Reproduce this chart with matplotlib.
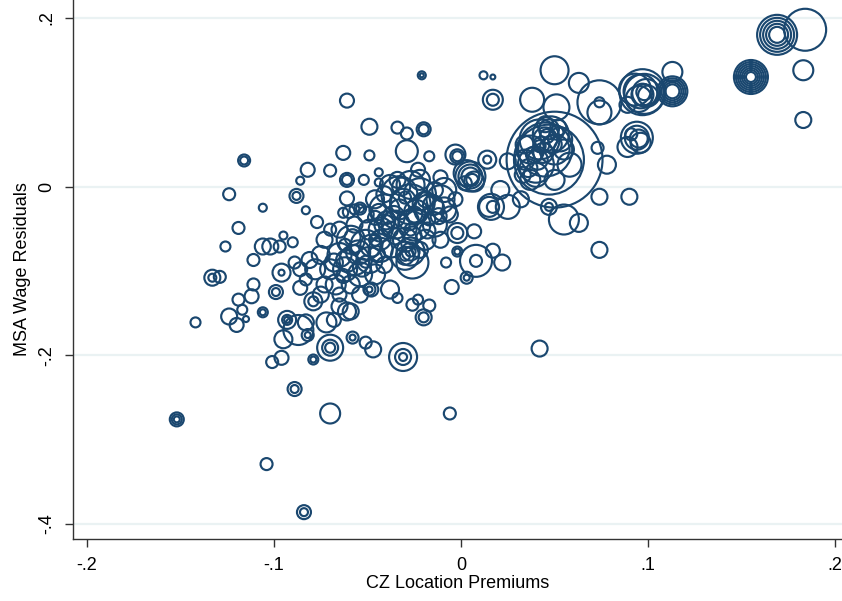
import matplotlib
matplotlib.use("Agg")
import matplotlib.pyplot as plt
import numpy as np

plt.rcParams['font.family'] = ['Liberation Sans', 'DejaVu Sans']

# CZ location premium, MSA wage residual, population weight
# lower left / outliers
prem_a = [-0.152, -0.152, -0.152, -0.142, -0.116, -0.116, -0.124, -0.119, -0.126, -0.133, -0.133, -0.129,
          -0.111, -0.106, -0.102, -0.097, -0.090, -0.096, -0.096, -0.089, -0.111, -0.112, -0.119, -0.124,
          -0.120, -0.117, -0.115, -0.106, -0.106, -0.099, -0.099, -0.093, -0.093, -0.093, -0.095, -0.101,
          -0.096, -0.079, -0.079, -0.083, -0.082, -0.082, -0.087, -0.070, -0.070, -0.070, -0.072, -0.068,
          -0.061, -0.058, -0.058, -0.051, -0.047, -0.079, -0.079, -0.075, -0.086, -0.065, -0.059, -0.049,
          -0.049, -0.089, -0.089, -0.070, -0.006, -0.104, -0.084, -0.084, -0.031, -0.031, -0.031, 0.042]
resid_a = [-0.276, -0.276, -0.276, -0.161, 0.031, 0.031, -0.009, -0.049, -0.071, -0.108, -0.108, -0.107,
           -0.087, -0.071, -0.071, -0.071, -0.066, -0.102, -0.102, -0.090, -0.116, -0.130, -0.134, -0.154,
           -0.164, -0.146, -0.157, -0.149, -0.149, -0.125, -0.125, -0.158, -0.158, -0.158, -0.181, -0.208,
           -0.203, -0.205, -0.205, -0.161, -0.176, -0.176, -0.170, -0.191, -0.191, -0.191, -0.161, -0.158,
           -0.148, -0.179, -0.179, -0.185, -0.193, -0.136, -0.136, -0.128, -0.120, -0.142, -0.148, -0.122,
           -0.122, -0.240, -0.240, -0.269, -0.269, -0.329, -0.386, -0.386, -0.202, -0.202, -0.202, -0.192]
pop_a = [49, 25, 9, 25, 36, 16, 36, 36, 25, 64, 16, 36,
         36, 64, 64, 36, 25, 81, 9, 36, 36, 49, 36, 64,
         49, 25, 9, 25, 9, 49, 16, 81, 25, 9, 81, 36,
         49, 25, 9, 64, 36, 9, 225, 169, 64, 25, 100, 49,
         81, 36, 9, 36, 64, 81, 25, 64, 49, 64, 64, 36,
         9, 49, 16, 100, 36, 36, 49, 16, 196, 64, 16, 64]

# upper left scatter
prem_b = [-0.106, -0.088, -0.088, -0.086, -0.083, -0.082, -0.070, -0.063, -0.061, -0.061, -0.061, -0.057,
          -0.077, -0.049, -0.029, -0.017, -0.002, -0.002, -0.052, -0.044, -0.044, -0.054, -0.054, -0.063,
          -0.061, -0.049, -0.034, -0.029, -0.020, -0.020, -0.021, -0.021, -0.095]
resid_b = [-0.025, -0.011, -0.011, 0.007, -0.028, 0.020, 0.019, 0.040, -0.014, 0.008, 0.008, -0.027,
           -0.042, 0.037, 0.042, 0.036, 0.036, 0.036, 0.008, 0.017, 0.005, -0.026, -0.026, -0.031,
           0.102, 0.071, 0.070, 0.063, 0.068, 0.068, 0.132, 0.132, -0.058]
pop_b = [16, 49, 16, 16, 16, 49, 36, 49, 49, 49, 25, 25,
         36, 25, 121, 25, 49, 25, 25, 16, 16, 36, 16, 25,
         49, 64, 36, 36, 49, 25, 16, 4, 16]

# upper right
prem_c = [0.012, 0.017, 0.017, 0.017, 0.038, 0.050, 0.063, 0.051, 0.074, 0.074, 0.074, 0.089,
          0.097, 0.098, 0.096, 0.099, 0.097, 0.098, 0.113, 0.113, 0.113, 0.113, 0.113, 0.113,
          0.094, 0.094, 0.095, 0.091, 0.089, 0.073, 0.078, 0.074, 0.090, 0.055, 0.063, 0.074,
          0.047, 0.047, 0.184, 0.169, 0.169, 0.169, 0.169, 0.169, 0.155, 0.155, 0.155, 0.155,
          0.155, 0.155, 0.155, 0.183, 0.183, 0.095, 0.100, 0.093, 0.096]
resid_c = [0.132, 0.130, 0.103, 0.103, 0.103, 0.138, 0.123, 0.094, 0.100, 0.100, 0.088, 0.097,
           0.112, 0.110, 0.113, 0.111, 0.109, 0.112, 0.113, 0.113, 0.113, 0.113, 0.113, 0.136,
           0.058, 0.058, 0.057, 0.062, 0.047, 0.046, 0.026, -0.012, -0.012, -0.039, -0.043, -0.075,
           -0.024, -0.024, 0.186, 0.180, 0.180, 0.180, 0.180, 0.180, 0.130, 0.130, 0.130, 0.130,
           0.130, 0.130, 0.130, 0.138, 0.079, 0.104, 0.108, 0.115, 0.052]
pop_c = [16, 6, 100, 36, 144, 196, 100, 169, 484, 25, 144, 64,
         529, 400, 289, 196, 121, 64, 225, 169, 121, 81, 49, 100,
         256, 144, 81, 36, 100, 36, 81, 64, 64, 225, 81, 64,
         64, 16, 441, 400, 289, 196, 121, 64, 289, 225, 169, 121,
         81, 49, 25, 100, 64, 169, 100, 256, 100]

# centre right, around zero
prem_d = [0.005, 0.005, 0.005, 0.006, -0.003, 0.014, 0.014, 0.025, 0.016, 0.015, 0.017, 0.025,
          0.032, 0.021, 0.007, 0.008, 0.008, 0.017, 0.022, -0.002, -0.002, -0.008, -0.005, 0.003,
          0.003, -0.002, -0.002, -0.026, -0.026, -0.023, -0.017, -0.020, -0.020, -0.038, -0.048, -0.034,
          -0.027, -0.027, -0.027, 0.003, 0.007, 0.002]
resid_d = [0.012, 0.012, 0.012, 0.008, 0.038, 0.032, 0.032, 0.030, -0.024, -0.024, -0.024, -0.024,
           -0.015, -0.004, -0.053, -0.088, -0.088, -0.076, -0.090, -0.077, -0.077, -0.090, -0.119, -0.108,
           -0.108, -0.055, -0.055, -0.090, -0.140, -0.134, -0.141, -0.155, -0.155, -0.122, -0.122, -0.132,
           -0.077, -0.077, -0.077, 0.016, 0.006, 0.004]
pop_d = [225, 144, 81, 36, 100, 81, 16, 64, 169, 100, 36, 144,
         64, 81, 49, 256, 36, 49, 64, 25, 9, 25, 49, 36,
         9, 100, 36, 256, 36, 25, 36, 64, 25, 81, 49, 25,
         196, 81, 25, 169, 100, 49]

# large metro cluster
prem_e = [0.050, 0.047, 0.045, 0.042, 0.048, 0.050, 0.040, 0.037, 0.045, 0.047, 0.043, 0.049,
          0.041, 0.053, 0.034, 0.045, 0.040, 0.033, 0.034, 0.050, 0.052, 0.055, 0.058, 0.037,
          0.044, 0.039, 0.046, 0.042, 0.036, 0.051]
resid_e = [0.032, 0.032, 0.044, 0.056, 0.062, 0.044, 0.026, 0.044, 0.056, 0.068, 0.050, 0.050,
           0.032, 0.056, 0.032, 0.074, 0.014, 0.014, 0.050, 0.008, 0.070, 0.044, 0.026, 0.008,
           0.040, 0.038, 0.060, 0.048, 0.022, 0.064]
pop_e = [2304, 1225, 729, 400, 324, 225, 324, 196, 144, 100, 64, 81,
         100, 144, 100, 64, 144, 64, 81, 100, 64, 100, 144, 100,
         100, 64, 49, 36, 81, 49]

# dense centre
prem_f = [-0.033, -0.027, -0.022, -0.017, -0.011, -0.041, -0.035, -0.025, -0.014, -0.009, -0.030, -0.037,
          -0.019, -0.027, -0.009, -0.022, -0.038, -0.033, -0.025, -0.019, -0.030, -0.014, -0.043, -0.035,
          -0.027, -0.017, -0.022, -0.011, -0.006, -0.003, -0.041, -0.034, -0.023, -0.011, -0.046, -0.031,
          -0.024, -0.020, -0.036, -0.028, -0.015, -0.032, -0.040, -0.026, -0.018, -0.012, -0.044]
resid_f = [-0.009, -0.021, -0.009, -0.027, -0.015, -0.027, -0.045, -0.045, -0.045, -0.027, -0.063, -0.072,
           -0.063, 0.002, -0.004, 0.008, 0.002, -0.027, -0.033, -0.015, -0.013, -0.004, -0.051, -0.059,
           -0.051, -0.039, -0.075, -0.063, -0.033, -0.015, -0.009, 0.008, 0.020, 0.011, -0.015, -0.018,
           -0.030, -0.020, -0.036, -0.040, -0.022, 0.000, -0.040, -0.058, -0.052, -0.035, -0.030]
pop_f = [324, 400, 256, 225, 196, 225, 196, 256, 144, 144, 144, 100,
         100, 196, 144, 100, 100, 100, 64, 64, 36, 64, 144, 64,
         36, 36, 64, 64, 64, 49, 64, 64, 49, 49, 81, 169,
         144, 121, 121, 100, 100, 81, 81, 81, 64, 64, 64]

# lower left of the cloud
prem_g = [-0.059, -0.051, -0.057, -0.065, -0.049, -0.043, -0.054, -0.062, -0.070, -0.067, -0.059, -0.046,
          -0.041, -0.049, -0.057, -0.065, -0.073, -0.075, -0.078, -0.081, -0.073, -0.043, -0.054, -0.065,
          -0.070, -0.062, -0.051, -0.057, -0.046, -0.038, -0.086, -0.083, -0.051, -0.046, -0.041, -0.060,
          -0.030, -0.030, -0.030, -0.055, -0.061, -0.048, -0.068, -0.053, -0.045, -0.058, -0.063]
resid_g = [-0.063, -0.069, -0.087, -0.081, -0.087, -0.075, -0.104, -0.098, -0.098, -0.116, -0.116, -0.104,
           -0.093, -0.051, -0.045, -0.051, -0.063, -0.081, -0.098, -0.087, -0.116, -0.063, -0.128, -0.128,
           -0.051, -0.069, -0.089, -0.075, -0.063, -0.051, -0.098, -0.110, -0.033, -0.037, -0.045, -0.030,
           -0.082, -0.082, -0.082, -0.078, -0.088, -0.070, -0.090, -0.096, -0.080, -0.060, -0.106]
pop_g = [196, 225, 225, 144, 169, 144, 144, 144, 100, 100, 81, 100,
         64, 100, 64, 64, 64, 81, 100, 64, 64, 100, 64, 49,
         36, 36, 36, 25, 36, 64, 49, 36, 64, 49, 100, 36,
         196, 81, 25, 144, 121, 121, 81, 81, 64, 64, 49]

prem = np.array(prem_a + prem_b + prem_c + prem_d + prem_e + prem_f + prem_g)
resid = np.array(resid_a + resid_b + resid_c + resid_d + resid_e + resid_f + resid_g)
pop = np.array(pop_a + pop_b + pop_c + pop_d + pop_e + pop_f + pop_g, dtype=float)

xticks = [-0.2, -0.1, 0, 0.1, 0.2]
xlabels = ['-.2', '-.1', '0', '.1', '.2']
yticks = [-0.4, -0.2, 0, 0.2]
ylabels = ['-.4', '-.2', '0', '.2']

navy = '#1a476f'

fig = plt.figure(figsize=(8.42, 6.01), dpi=100)
ax = fig.add_axes([0.0867, 0.1032, 0.9133, 0.8968])

for yt in yticks:
    ax.axhline(yt, color='#eaf2f3', lw=1.6, zorder=0)

ax.scatter(prem, resid, s=pop * 2.07, facecolors='none', edgecolors=navy, linewidths=1.55, zorder=2)

ax.set_xlim(-0.2075, 0.2037)
ax.set_ylim(-0.4178, 0.2213)
ax.set_xticks(xticks)
ax.set_xticklabels(xlabels)
ax.set_yticks(yticks)
ax.set_yticklabels(ylabels, rotation=90, va='center')
ax.tick_params(direction='out', length=6, width=1, color='#333333', labelsize=13, pad=7)

for side in ['top', 'right']:
    ax.spines[side].set_visible(False)
for side in ['left', 'bottom']:
    ax.spines[side].set_color('#333333')
    ax.spines[side].set_linewidth(1)

ax.set_xlabel('CZ Location Premiums', fontsize=13, labelpad=1)
ax.set_ylabel('MSA Wage Residuals', fontsize=13, labelpad=5)

fig.savefig('out.png', dpi=100)
